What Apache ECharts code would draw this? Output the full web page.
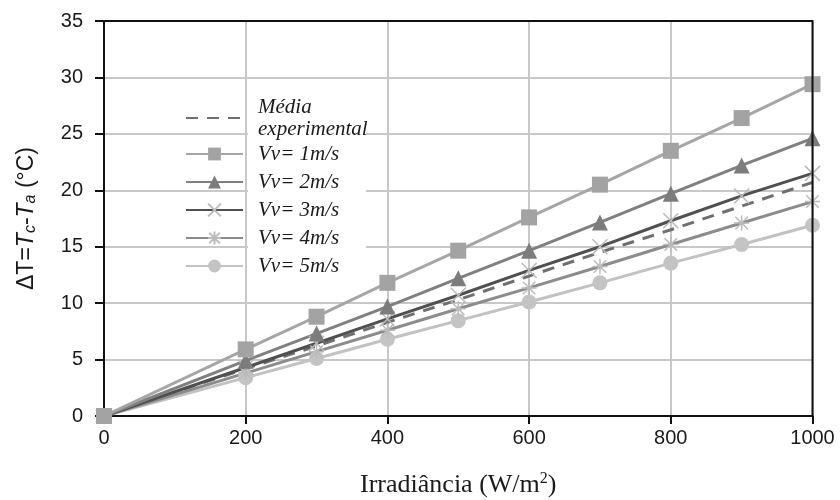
<!DOCTYPE html>
<html>
<head>
<meta charset="utf-8">
<script src="https://cdn.jsdelivr.net/npm/echarts@6/dist/echarts.min.js"></script>
<style>html,body{margin:0;padding:0;background:#fff}#c{width:840px;height:500px}</style>
</head>
<body>
<div id="c"></div>
<script>
const irradiance = [0, 200, 300, 400, 500, 600, 700, 800, 900, 1000];
const mediaExp = [0, 4.2, 6.2, 8.3, 10.3, 12.4, 14.5, 16.5, 18.6, 20.7];
const vv1 = [0, 5.9, 8.8, 11.8, 14.65, 17.6, 20.5, 23.5, 26.4, 29.4];
const vv2 = [0, 4.9, 7.3, 9.7, 12.2, 14.65, 17.15, 19.7, 22.2, 24.6];
const vv3 = [0, 4.3, 6.45, 8.6, 10.7, 12.9, 15.0, 17.3, 19.5, 21.5];
const vv4 = [0, 3.8, 5.7, 7.6, 9.5, 11.35, 13.25, 15.2, 17.1, 19.0];
const vv5 = [0, 3.4, 5.1, 6.8, 8.45, 10.1, 11.8, 13.55, 15.2, 16.9];
const seriesNames = ['Média\nexperimental', 'Vv= 1m/s', 'Vv= 2m/s', 'Vv= 3m/s', 'Vv= 4m/s', 'Vv= 5m/s'];
const xMax = 1000, yMax = 35;

const pairs = v => irradiance.map((x, i) => [x, v[i]]);
const xPath = 'path://M0,0L10,10M10,0L0,10';
const starPath = 'path://M0,0L10,10M10,0L0,10M5,-1L5,11M-1,5L11,5';

const chart = echarts.init(document.getElementById('c'), null, {renderer: 'canvas'});
const legendText = {fontFamily: 'Liberation Serif', fontStyle: 'italic', fontSize: 21, color: '#1a1a1a',
  padding: [0, 0, 0, 10], backgroundColor: '#ffffff', width: 108};
chart.setOption({
  animation: false,
  grid: {left: 104, right: 27.5, top: 21, bottom: 84, outerBoundsMode: 'none', containLabel: false},
  legend: [
    {data: [seriesNames[0]], orient: 'vertical', left: 180, top: 91, itemWidth: 57, itemHeight: 16, selectedMode: false,
     textStyle: Object.assign({}, legendText, {lineHeight: 22})},
    {data: seriesNames.slice(1), orient: 'vertical', left: 180, top: 135, itemWidth: 57, itemHeight: 16, itemGap: 0, selectedMode: false,
     textStyle: Object.assign({}, legendText, {lineHeight: 28})}
  ],
  xAxis: {
    type: 'value', min: 0, max: xMax, interval: 200, position: 'bottom',
    name: 'Irradiância (W/m{sup|2})', nameLocation: 'middle', nameGap: 55,
    nameTextStyle: {fontFamily: 'Liberation Serif', fontSize: 26, color: '#1a1a1a',
      rich: {sup: {fontFamily: 'Liberation Serif', fontSize: 16, verticalAlign: 'top', padding: [0, 0, 12, 0], color: '#1a1a1a'}}},
    axisLine: {onZero: false, lineStyle: {color: '#111', width: 2}},
    axisTick: {show: true, length: 8, lineStyle: {color: '#111', width: 2}},
    axisLabel: {fontFamily: 'Liberation Sans', fontSize: 20, color: '#1a1a1a', margin: 12, formatter: v => String(v)},
    splitLine: {show: true, lineStyle: {color: '#c8c8c8', width: 2}}
  },
  yAxis: {
    type: 'value', min: 0, max: yMax, interval: 5, position: 'left',
    name: 'ΔT={i|T}{s|c}-{i|T}{s|a} (°C)', nameLocation: 'middle', nameRotate: 90, nameGap: 65,
    nameTextStyle: {fontFamily: 'Liberation Sans', fontSize: 23, color: '#1a1a1a',
      rich: {i: {fontFamily: 'Liberation Sans', fontSize: 23, fontStyle: 'italic', color: '#1a1a1a'},
             s: {fontFamily: 'Liberation Sans', fontSize: 16, fontStyle: 'italic', color: '#1a1a1a', verticalAlign: 'bottom', padding: [9, 0, 0, 0]}}},
    axisLine: {show: true, onZero: false, lineStyle: {color: '#111', width: 2}},
    axisTick: {show: true, length: 9, lineStyle: {color: '#111', width: 2}},
    axisLabel: {fontFamily: 'Liberation Sans', fontSize: 20, color: '#1a1a1a', margin: 21, formatter: v => String(v)},
    splitLine: {show: true, lineStyle: {color: '#c8c8c8', width: 2}}
  },
  series: [
    {name: seriesNames[0], type: 'line', data: pairs(mediaExp), symbol: 'circle', showSymbol: false, z: 3,
     lineStyle: {color: '#6f6f6f', width: 3, type: [12, 9]}, itemStyle: {color: 'transparent', borderWidth: 0}},
    {name: seriesNames[5], type: 'line', data: pairs(vv5), symbol: 'circle', symbolSize: 15, z: 3,
     lineStyle: {color: '#c2c2c2', width: 3}, itemStyle: {color: '#c4c4c4'}},
    {name: seriesNames[4], type: 'line', data: pairs(vv4), symbol: starPath, symbolSize: 15, z: 3,
     lineStyle: {color: '#8c8c8c', width: 3}, itemStyle: {color: 'none', borderColor: '#bbbbbb', borderWidth: 1.5}},
    {name: seriesNames[3], type: 'line', data: pairs(vv3), symbol: xPath, symbolSize: 15, z: 3,
     lineStyle: {color: '#505050', width: 3}, itemStyle: {color: 'none', borderColor: '#bbbbbb', borderWidth: 1.5}},
    {name: seriesNames[2], type: 'line', data: pairs(vv2), symbol: 'triangle', symbolSize: 16, z: 3,
     lineStyle: {color: '#808080', width: 3}, itemStyle: {color: '#7c7c7c'}},
    {name: seriesNames[1], type: 'line', data: pairs(vv1), symbol: 'rect', symbolSize: 16, z: 3,
     lineStyle: {color: '#a6a6a6', width: 3}, itemStyle: {color: '#a3a3a3'}}
  ]
});

// Frame (top and right edges) placed through the chart's own scales.
const p00 = chart.convertToPixel({gridIndex: 0}, [0, yMax]);
const p10 = chart.convertToPixel({gridIndex: 0}, [xMax, yMax]);
const p11 = chart.convertToPixel({gridIndex: 0}, [xMax, 0]);
chart.setOption({
  graphic: [{
    type: 'polyline', z: 100, silent: true,
    shape: {points: [p00, p10, p11]},
    style: {stroke: '#111', lineWidth: 2, fill: null}
  }]
});
</script>
</body>
</html>
